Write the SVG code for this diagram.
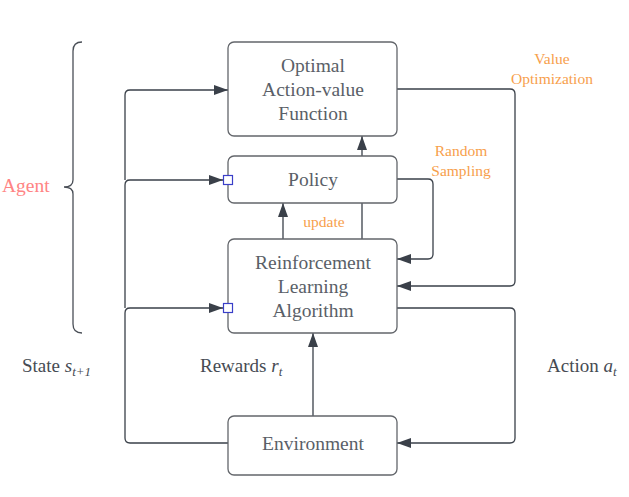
<svg xmlns="http://www.w3.org/2000/svg" width="629" height="497" viewBox="0 0 629 497">
<style>
.box{fill:#fff;stroke:#63666b;stroke-width:1.3}
.lbl{font-family:"Liberation Serif",serif;font-size:19.5px;fill:#5a5f68;text-anchor:middle}
.org{font-family:"Liberation Serif",serif;font-size:15.5px;fill:#f7a04c;text-anchor:middle}
.side{font-family:"Liberation Serif",serif;font-size:19px;fill:#464b53}
.con{fill:none;stroke:#3a4049;stroke-width:1.3}
.port{fill:#fff;stroke:#3a3fc8;stroke-width:1.2}
</style>
<defs>
<marker id="ah" viewBox="0 0 14 10" refX="14" refY="5" markerWidth="14" markerHeight="10" markerUnits="userSpaceOnUse" orient="auto">
<path d="M0,0 L14,5 L0,10 z" fill="#3a4049"/>
</marker>
</defs>
<g id="brace">
<path d="M82,42 Q73,42 73,51 V180 Q73,187 64,187 Q73,187 73,194 V324 Q73,333 82,333" fill="none" stroke="#4a4f57" stroke-width="1.3"/>
<text x="2" y="192" font-family="Liberation Serif,serif" font-size="19.5" fill="#ff8484">Agent</text>
</g>
<g id="connectors">
<path class="con" d="M228,443 H130 Q125,443 125,438 V313 Q125,308 130,308 H223" marker-end="url(#ah)"/>
<path class="con" d="M125,308 V185 Q125,180 130,180 H223" marker-end="url(#ah)"/>
<path class="con" d="M125,180 V95 Q125,90 130,90 H228" marker-end="url(#ah)"/>
<path class="con" d="M397,89 H510 Q515,89 515,94 V281 Q515,286 510,286 H397" marker-end="url(#ah)"/>
<path class="con" d="M397,179 H428 Q433,179 433,184 V254 Q433,259 428,259 H397" marker-end="url(#ah)"/>
<path class="con" d="M397,308 H510 Q515,308 515,313 V438 Q515,443 510,443 H397" marker-end="url(#ah)"/>
<path class="con" d="M283,239 V203" marker-end="url(#ah)"/>
<path class="con" d="M362,239 V136" marker-end="url(#ah)"/>
<path class="con" d="M313,416 V333" marker-end="url(#ah)"/>
</g>
<g id="optimal">
<rect class="box" x="228" y="42" width="169" height="94" rx="6"/>
<text class="lbl" x="313" y="72">Optimal</text>
<text class="lbl" x="313" y="96">Action-value</text>
<text class="lbl" x="313" y="120">Function</text>
</g>
<g id="policy">
<rect class="box" x="228" y="156" width="169" height="47" rx="6"/>
<text class="lbl" x="313" y="186">Policy</text>
<rect class="port" x="223.5" y="175.5" width="9" height="9"/>
</g>
<g id="rl">
<rect class="box" x="228" y="239" width="169" height="94" rx="6"/>
<text class="lbl" x="313" y="269">Reinforcement</text>
<text class="lbl" x="313" y="293">Learning</text>
<text class="lbl" x="313" y="317">Algorithm</text>
<rect class="port" x="223.5" y="303.5" width="9" height="9"/>
</g>
<g id="environment">
<rect class="box" x="228" y="416" width="169" height="59" rx="6"/>
<text class="lbl" x="313" y="450">Environment</text>
</g>
<g id="labels">
<text class="org" x="324" y="227">update</text>
<text class="org" x="461" y="156">Random</text>
<text class="org" x="461" y="176">Sampling</text>
<text class="org" x="552" y="64">Value</text>
<text class="org" x="552" y="84">Optimization</text>
<text class="side" x="22" y="372">State <tspan font-style="italic">s</tspan><tspan font-style="italic" font-size="13" dy="4">t+1</tspan></text>
<text class="side" x="200" y="372">Rewards <tspan font-style="italic">r</tspan><tspan font-style="italic" font-size="13" dy="4">t</tspan></text>
<text class="side" x="547" y="372">Action <tspan font-style="italic">a</tspan><tspan font-style="italic" font-size="13" dy="4">t</tspan></text>
</g>
</svg>
